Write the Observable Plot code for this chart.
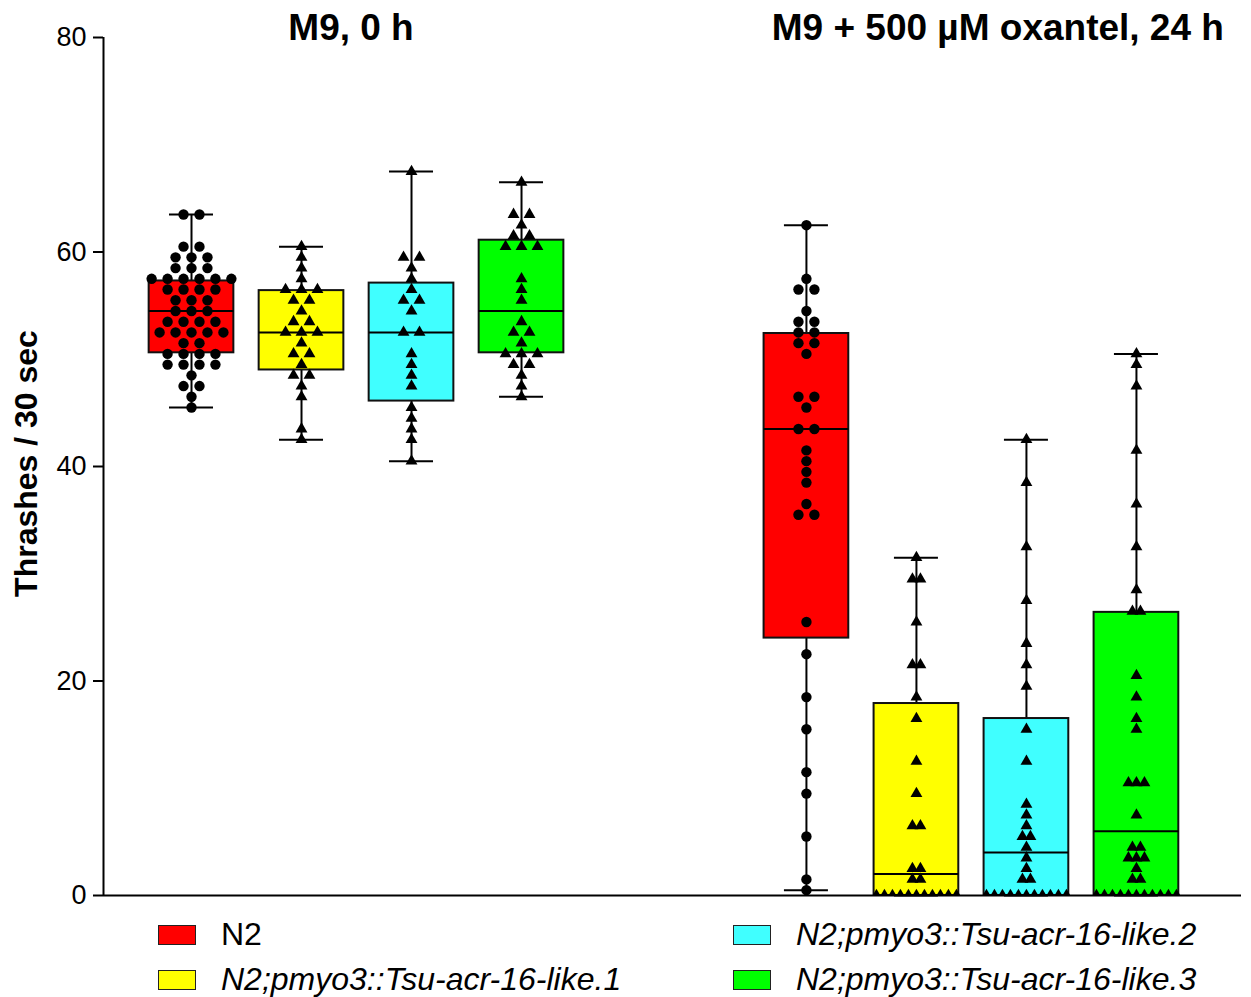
<!DOCTYPE html>
<html>
<head>
<meta charset="utf-8">
<script src="https://cdn.jsdelivr.net/npm/d3@7"></script>
<script src="https://cdn.jsdelivr.net/npm/@observablehq/plot@0.6"></script>
<style>
  html, body { margin: 0; padding: 0; background: #fff; }
  body { width: 1251px; height: 997px; overflow: hidden; font-family: "Liberation Sans", Arial, sans-serif; }
  #legend { display: grid; grid-template-columns: 575px auto; grid-auto-rows: 45px; margin-left: 158px; margin-top: 2px; }
  .item { display: flex; align-items: center; font-size: 32px; color: #000; }
  .sw { width: 36px; height: 18px; border: 1.5px solid #222; margin-right: 25px; flex: none; }
  .it { font-style: italic; }
</style>
</head>
<body>
<div id="chart"></div>
<div id="legend"></div>
<script>
// ---------- data ----------
const groups = ["M9, 0 h", "M9 + 500 µM oxantel, 24 h"];
const strains = ["N2", "N2;pmyo3::Tsu-acr-16-like.1", "N2;pmyo3::Tsu-acr-16-like.2", "N2;pmyo3::Tsu-acr-16-like.3"];
const strainColors = ["#ff0000", "#ffff00", "#40ffff", "#00ff00"];
const strainSymbols = ["circle", "triangle", "triangle", "triangle"];
const yTicks = [0, 20, 40, 60, 80];

// box statistics, order: M9 (N2, .1, .2, .3), oxantel (N2, .1, .2, .3)
const boxMin    = [45.5, 42.5, 40.5, 46.5,  0.5,  0,    0,    0];
const boxQ1     = [50.6, 49.0, 46.1, 50.6, 24.0,  0,    0,    0];
const boxMedian = [54.5, 52.5, 52.5, 54.5, 43.5,  2.0,  4.0,  6.0];
const boxQ3     = [57.3, 56.4, 57.1, 61.1, 52.4, 17.9, 16.5, 26.4];
const boxMax    = [63.5, 60.5, 67.5, 66.5, 62.5, 31.5, 42.5, 50.5];

// individual worms
const m9_N2 = [63.5,63.5, 60.5,60.5, 59.5,59.5,59.5, 58.5,58.5,58.5, 57.5,57.5,57.5,57.5,57.5,57.5,
  56.5,56.5,56.5,56.5, 55.5,55.5,55.5, 54.5,54.5,54.5, 53.5,53.5,53.5,53.5, 52.5,52.5,52.5,52.5,52.5,
  51.5,51.5, 50.5,50.5,50.5,50.5, 49.5,49.5,49.5,49.5, 48.5, 47.5,47.5, 46.5, 45.5];
const m9_L1 = [60.5, 59.5, 58.5, 57.5, 56.5,56.5,56.5, 55.5,55.5, 54.5, 53.5,53.5, 52.5,52.5,52.5,
  51.5, 50.5,50.5, 49.5, 48.5,48.5, 47.5, 46.5, 43.5, 42.5];
const m9_L2 = [67.5, 59.5,59.5, 58.5, 57.5, 56.5, 55.5,55.5, 54.5, 52.5,52.5, 50.5, 49.5, 48.5, 47.5,
  45.5, 44.5, 43.5, 42.5, 40.5];
const m9_L3 = [66.5, 63.5,63.5, 62.5, 61.5,61.5, 60.5,60.5,60.5, 57.5, 56.5, 55.5, 53.5, 52.5,52.5,
  51.5, 50.5,50.5,50.5, 49.5,49.5, 48.5, 47.5, 46.5];
const ox_N2 = [62.5, 57.5, 56.5,56.5, 54.5, 53.5,53.5, 52.5,52.5, 51.5,51.5, 50.5, 46.5,46.5, 45.5,
  43.5,43.5, 41.5, 40.5, 39.5, 38.5, 36.5, 35.5,35.5, 25.5, 22.5, 18.5, 15.5, 11.5, 9.5, 5.5, 1.5, 0.5];
const ox_L1 = [31.5, 29.5,29.5, 25.5, 21.5,21.5, 18.5, 16.5, 12.5, 9.5, 6.5,6.5, 2.5,2.5, 1.5,1.5,
  0,0,0,0,0,0,0,0,0,0,0];
const ox_L2 = [42.5, 38.5, 32.5, 27.5, 23.5, 21.5, 19.5, 15.5, 12.5, 8.5, 7.5, 6.5, 5.5,5.5, 4.5, 3.5,
  2.5, 1.5,1.5, 0,0,0,0,0,0,0,0,0,0,0];
const ox_L3 = [50.5, 49.5, 47.5, 41.5, 36.5, 32.5, 28.5, 26.5,26.5, 20.5, 18.5, 16.5, 15.5, 10.5,10.5,10.5,
  7.5, 4.5,4.5, 3.5,3.5,3.5, 2.5, 1.5,1.5, 0,0,0,0,0,0,0,0,0,0,0];
const pointSets = [m9_N2, m9_L1, m9_L2, m9_L3, ox_N2, ox_L1, ox_L2, ox_L3];

// ---------- layout ----------
const groupOffset = 5.59;     // slot distance between first boxes of the two groups
const boxHalf = 0.385, capHalf = 0.2, spreadStep = 0.145, spreadMax = 0.727;
const xDomain = [-0.8, 9.545];

const boxes = pointSets.map((_, i) => {
  const g = Math.floor(i / 4), s = i % 4;
  return { g, s, x: s + g * groupOffset, color: strainColors[s], symbol: strainSymbols[s],
    min: boxMin[i], q1: boxQ1[i], median: boxMedian[i], q3: boxQ3[i], max: boxMax[i] };
});

function spread(vals) {
  const counts = d3.rollup(vals, v => v.length, d => d);
  const maxTies = d3.max(counts.values());
  const step = Math.min(spreadStep, maxTies > 1 ? spreadMax / (maxTies - 1) : spreadStep);
  const seen = new Map();
  return vals.map(v => {
    const n = counts.get(v), k = seen.get(v) || 0;
    seen.set(v, k + 1);
    return (k - (n - 1) / 2) * step;
  });
}

const points = [];
pointSets.forEach((vals, i) => {
  const off = spread(vals);
  vals.forEach((v, j) => points.push({ x: boxes[i].x + off[j], y: v, symbol: boxes[i].symbol }));
});

const titles = [
  { label: groups[0], x: 1.45 },
  { label: groups[1], x: groupOffset + 1.74 }
];

const chart = Plot.plot({
  width: 1251, height: 910,
  marginLeft: 103, marginRight: 10, marginTop: 37, marginBottom: 15,
  style: { fontFamily: "'Liberation Sans', Arial, sans-serif", background: "#fff", overflow: "visible" },
  x: { domain: xDomain, axis: null },
  y: { domain: [0, 80], axis: null },
  color: { type: "identity" },
  marks: [
    Plot.axisY({ ticks: yTicks, tickSize: 10, tickPadding: 7, fontSize: 27, strokeWidth: 2, label: null, tickFormat: d => String(d) }),
    Plot.ruleX([xDomain[0]], { y1: 0, y2: 80, stroke: "#000", strokeWidth: 2 }),
    Plot.ruleX(boxes, { x: "x", y1: "min", y2: "max", stroke: "#000", strokeWidth: 2 }),
    Plot.rect(boxes, { x1: d => d.x - boxHalf, x2: d => d.x + boxHalf, y1: "q1", y2: "q3", fill: "color", stroke: "#111", strokeWidth: 2 }),
    Plot.ruleY(boxes, { y: "median", x1: d => d.x - boxHalf, x2: d => d.x + boxHalf, stroke: "#000", strokeWidth: 2 }),
    Plot.ruleY(boxes, { y: "max", x1: d => d.x - capHalf, x2: d => d.x + capHalf, stroke: "#000", strokeWidth: 2 }),
    Plot.ruleY(boxes, { y: "min", x1: d => d.x - capHalf, x2: d => d.x + capHalf, stroke: "#000", strokeWidth: 2 }),
    Plot.dot(points.filter(p => p.symbol === "circle"), { x: "x", y: "y", symbol: "circle", r: 5.2, fill: "#000", clip: true }),
    Plot.dot(points.filter(p => p.symbol === "triangle"), { x: "x", y: "y", symbol: "triangle", r: 4.4, fill: "#000", clip: true }),
    Plot.ruleY([0], { stroke: "#000", strokeWidth: 2 }),
    Plot.text(titles, { x: "x", y: 80, text: "label", dy: -9, fontSize: 37, fontWeight: "bold", lineAnchor: "middle", fill: "#000" }),
    Plot.text(["Thrashes / 30 sec"], { frameAnchor: "left", dx: -77, dy: -3, rotate: -90, textAnchor: "middle", fontSize: 32, fontWeight: "bold", fill: "#000", text: d => d })
  ]
});
document.getElementById("chart").appendChild(chart);

// legend
const order = [0, 2, 1, 3];
const legend = document.getElementById("legend");
order.forEach(i => {
  const it = document.createElement("div");
  it.className = "item";
  const sw = document.createElement("span");
  sw.className = "sw";
  sw.style.background = strainColors[i];
  const tx = document.createElement("span");
  tx.textContent = strains[i];
  if (i > 0) tx.className = "it";
  it.appendChild(sw); it.appendChild(tx);
  legend.appendChild(it);
});
</script>
</body>
</html>
